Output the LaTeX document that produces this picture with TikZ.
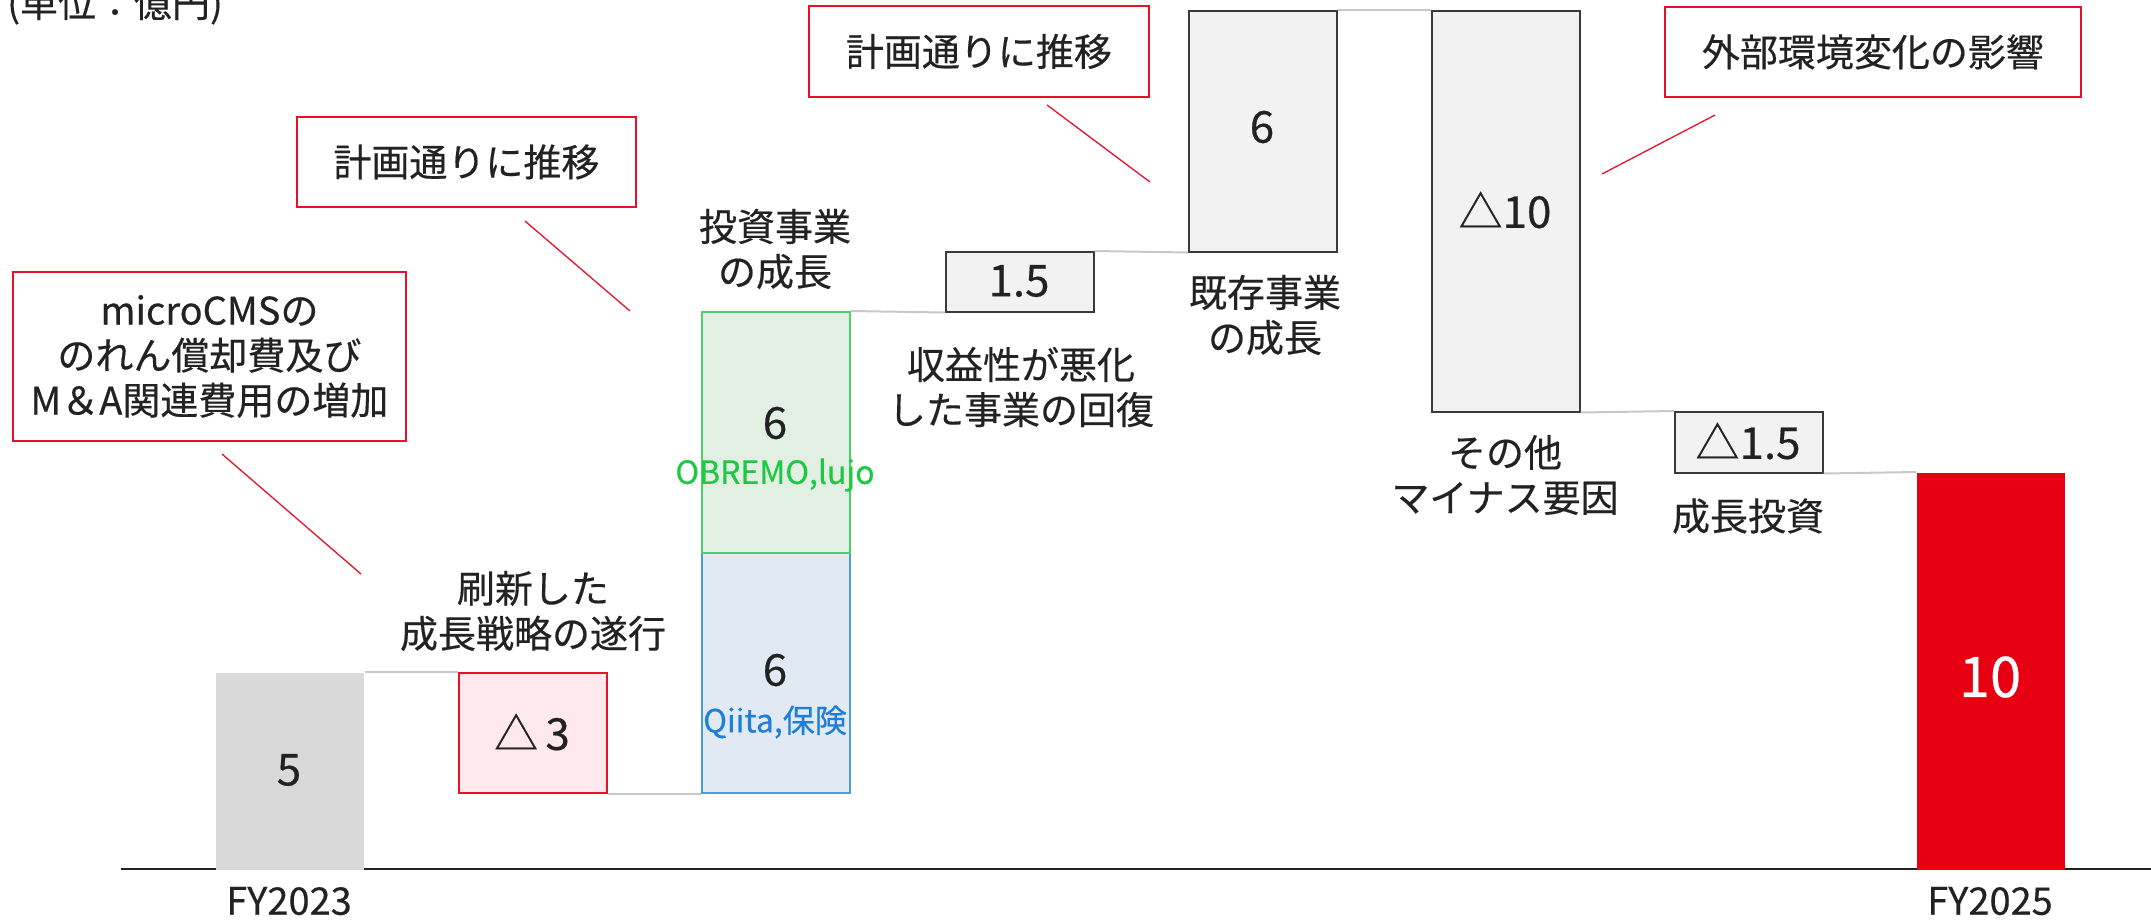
\documentclass[tikz,border=0pt]{standalone}
\usepackage{fontspec}
\setmainfont{Noto Sans CJK JP}[FakeBold=0.4]
\definecolor{txt}{HTML}{222222}
\definecolor{calred}{HTML}{E8102A}
\definecolor{conngray}{HTML}{C8C8C8}
\definecolor{barline}{HTML}{3A3A3A}
\definecolor{barfill}{HTML}{F2F2F2}
\definecolor{startfill}{HTML}{D9D9D9}
\definecolor{pinkfill}{HTML}{FFE9EC}
\definecolor{grnfill}{HTML}{E2F0E4}
\definecolor{grnline}{HTML}{4CD06A}
\definecolor{grntxt}{HTML}{1DC843}
\definecolor{blufill}{HTML}{E1EAF2}
\definecolor{bluline}{HTML}{4A9BE0}
\definecolor{blutxt}{HTML}{1E7ED8}
\definecolor{endred}{HTML}{E60012}
\begin{document}
\begin{tikzpicture}[x=1pt,y=-1pt]
\tikzset{
  wbar/.style={rectangle, inner sep=0pt, minimum width=148pt, anchor=north west, line width=1.5pt},
  conn/.style={draw=conngray, line width=2pt},
  callout/.style={rectangle, draw=calred, line width=1.8pt, inner sep=0pt, anchor=north west,
                  font=\fontsize{38}{45}\selectfont, align=center, text=txt},
  lead/.style={draw=calred, line width=1.3pt},
  lbl/.style={font=\fontsize{38}{45}\selectfont, align=center, text=txt, inner sep=0pt},
  num/.style={font=\fontsize{44}{50}\selectfont, text=txt, inner sep=0pt},
  sub/.style={font=\fontsize{32}{38}\selectfont, inner sep=0pt},
}
\useasboundingbox (0,0) rectangle (2151,922);

% title
\node[lbl, anchor=base west] (unit) at (7,17) {(単位：億円)};

% axis
\coordinate (axl) at (121,869);
\coordinate (axr) at (2151,869);
\draw[draw=txt, line width=2pt] (axl) -- (axr);

% bars
\node[wbar, fill=startfill, minimum height=197pt] (b5) at (215,672) {};
\node[wbar, fill=pinkfill, draw=calred, minimum height=120pt] (bm3) at (458,672) {};
\node[wbar, fill=blufill, draw=bluline, minimum height=240pt] (bblue) at (701,552) {};
\node[wbar, fill=grnfill, draw=grnline, minimum height=241pt] (bgrn) at (701,311) {};
\node[wbar, fill=barfill, draw=barline, minimum height=60pt] (b15) at (945,251) {};
\node[wbar, fill=barfill, draw=barline, minimum height=241pt] (b6) at (1188,10) {};
\node[wbar, fill=barfill, draw=barline, minimum height=401pt] (bm10) at (1431,10) {};
\node[wbar, fill=barfill, draw=barline, minimum height=61pt] (bm15) at (1674,411) {};
\node[wbar, fill=endred, minimum height=397pt] (bend) at (1916,472) {};

% connectors
\draw[conn] (b5.north east) -- (bm3.north west);
\draw[conn] (bm3.south east) -- (bblue.south west);
\draw[conn] (bgrn.north east) -- (b15.south west);
\draw[conn] (b15.north east) -- (b6.south west);
\draw[conn] (b6.north east) -- (bm10.north west);
\draw[conn] (bm10.south east) -- (bm15.north west);
\draw[conn] (bm15.south east) -- (bend.north west);

% values
\node[num] (v5) at (289,770) {5};
\node[num] (vm3) at (532,732) {△\,3};
\node[num] (vblue) at (775,670) {6};
\node[sub, text=blutxt] (sblue) at (775,722) {Qiita,保険};
\node[num] (vgrn) at (775,423) {6};
\node[sub, text=grntxt] (sgrn) at (775,475) {OBREMO,lujo};
\node[num] (v15) at (1019,281) {1.5};
\node[num] (v6) at (1262,127) {6};
\node[num] (vm10) at (1505,210) {△10};
\node[num] (vm15) at (1748,441) {△1.5};
\node[num, text=white, font=\fontsize{56}{60}\selectfont] (vend) at (1990,677) {10};

% labels
\node[lbl] (l1) at (533,611) {刷新した\\成長戦略の遂行};
\node[lbl] (l2) at (775,249) {投資事業\\の成長};
\node[lbl] (l3) at (1021,387) {収益性が悪化\\した事業の回復};
\node[lbl] (l4) at (1265,315) {既存事業\\の成長};
\node[lbl] (l5) at (1505,475) {その他\\マイナス要因};
\node[lbl] (l6) at (1748,516) {成長投資};
\node[lbl] (fy23) at (289,901) {FY2023};
\node[lbl] (fy25) at (1990,901) {FY2025};

% callouts
\node[callout, minimum width=393pt, minimum height=169pt] (c1) at (12,271) {microCMSの\\のれん償却費及び\\M＆A関連費用の増加};
\node[callout, minimum width=339pt, minimum height=90pt] (c2) at (296,116) {計画通りに推移};
\node[callout, minimum width=340pt, minimum height=91pt] (c3) at (808,5) {計画通りに推移};
\node[callout, minimum width=416pt, minimum height=90pt] (c4) at (1664,6) {外部環境変化の影響};

% leader lines
\coordinate (p1a) at (222,454); \coordinate (p1b) at (361,574);
\coordinate (p2a) at (525,221); \coordinate (p2b) at (630,311);
\coordinate (p3a) at (1047,105); \coordinate (p3b) at (1150,182);
\coordinate (p4a) at (1715,115); \coordinate (p4b) at (1602,174);
\draw[lead] (p1a) -- (p1b);
\draw[lead] (p2a) -- (p2b);
\draw[lead] (p3a) -- (p3b);
\draw[lead] (p4a) -- (p4b);
\end{tikzpicture}
\end{document}
